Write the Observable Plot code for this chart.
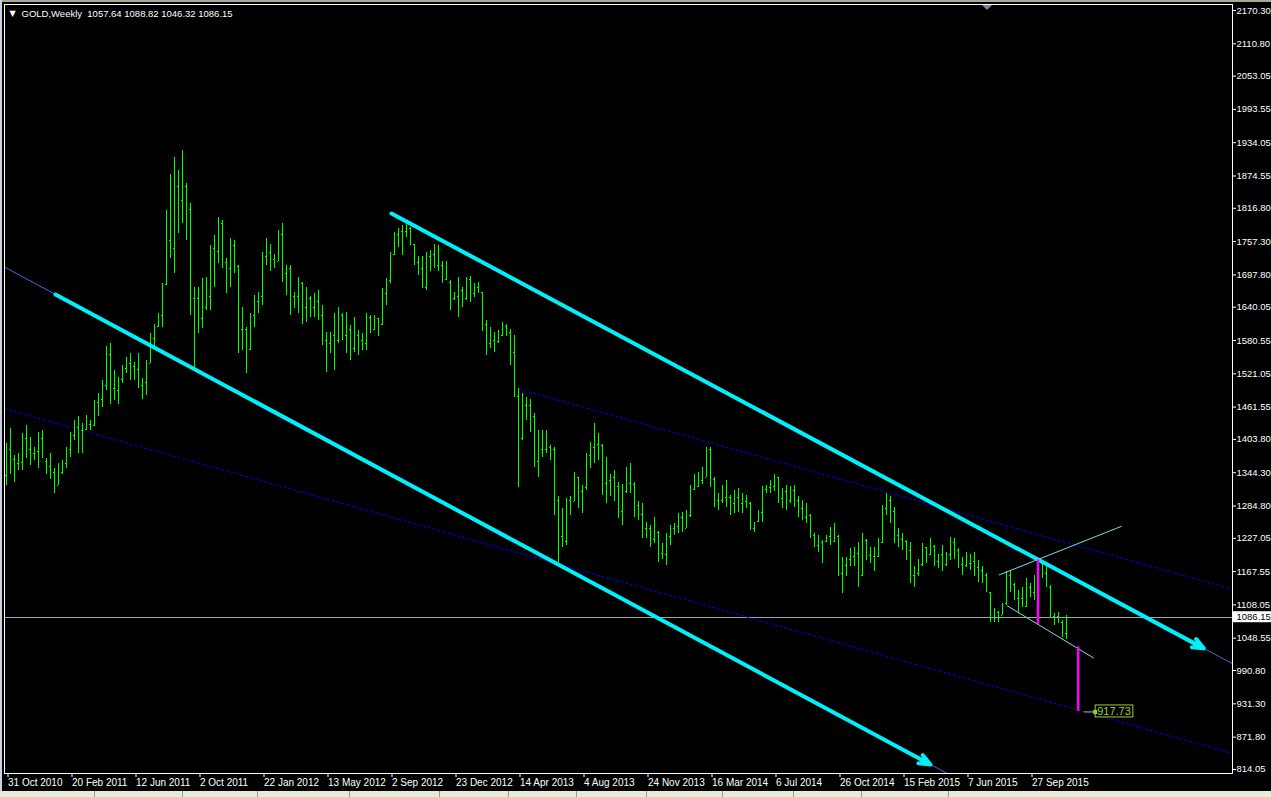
<!DOCTYPE html>
<html><head><meta charset="utf-8">
<script src="https://cdn.jsdelivr.net/npm/d3@7"></script>
<script src="https://cdn.jsdelivr.net/npm/@observablehq/plot@0.6"></script>
<style>
html,body{margin:0;padding:0;background:#000;width:1271px;height:797px;overflow:hidden;}
#chart{position:absolute;left:0;top:0;}
.topbar{position:absolute;left:0;top:0;width:1271px;height:2px;background:#a8a898;}
.leftbar{position:absolute;left:0;top:0;width:2px;height:791px;background:#c8d0dc;}
.status{position:absolute;left:0;top:791px;width:1271px;height:6px;background:#ece9d8;}
.sep{position:absolute;top:791px;width:1px;height:6px;background:#9a9a8a;}
.shift{position:absolute;left:982px;top:5px;width:0;height:0;border-left:5px solid transparent;border-right:5px solid transparent;border-top:5px solid #778899;}
</style></head>
<body>
<div id="chart"></div>
<div class="topbar"></div>
<div class="leftbar"></div>
<div class="status"></div>
<div class="shift"></div>
<script>
const symbol = "GOLD";
const period = "Weekly";

const opens = [
1340,1385,1368,1360,1362,1405,1385,1378,1382,1405,
1365,1355,1345,1322,1345,1360,1385,1410,1425,1420,
1422,1430,1428,1470,1475,1500,1555,1495,1492,1510,
1530,1540,1535,1528,1500,1505,1540,1585,1605,1625,
1680,1760,1745,1855,1830,1855,1815,1655,1655,1620,
1640,1660,1745,1740,1790,1720,1710,1750,1712,1600,
1600,1565,1625,1650,1660,1730,1738,1725,1722,1770,
1700,1710,1660,1660,1682,1640,1655,1640,1650,1625,
1580,1575,1590,1580,1625,1590,1600,1566,1590,1580,
1575,1622,1600,1619,1610,1665,1688,1735,1770,1775,
1775,1780,1752,1720,1710,1675,1730,1735,1715,1715,
1690,1685,1655,1660,1670,1655,1690,1665,1675,1666,
1610,1575,1580,1578,1590,1605,1595,1560,1480,1405,
1465,1465,1445,1365,1385,1385,1390,1385,1295,1230,
1222,1295,1292,1335,1310,1318,1375,1390,1395,1393,
1325,1330,1335,1320,1275,1310,1325,1324,1285,1270,
1245,1245,1225,1238,1200,1198,1230,1245,1248,1265,
1245,1268,1315,1320,1330,1336,1385,1333,1295,1295,
1300,1300,1290,1300,1290,1292,1289,1245,1258,1274,
1315,1317,1320,1335,1298,1310,1295,1312,1295,1280,
1265,1268,1232,1215,1220,1222,1230,1222,1230,1165,
1178,1190,1195,1200,1160,1223,1196,1195,1195,1220,
1280,1295,1275,1232,1225,1222,1205,1160,1165,1180,
1210,1198,1212,1185,1198,1180,1198,1220,1205,1180,
1178,1182,1185,1175,1170,1160,1130,1085,1095,1090,
1110,1160,1145,1120,1120,1105,1140,1130,1158,1182,
1165,1139,1088,1088,1077,1057.64
];
const highs = [
1396,1423,1375,1378,1414,1429,1408,1390,1417,1420,
1369,1378,1351,1360,1366,1390,1417,1438,1444,1432,
1447,1438,1473,1485,1509,1569,1575,1527,1515,1536,
1551,1557,1542,1557,1512,1545,1593,1610,1628,1682,
1813,1878,1908,1884,1920,1861,1825,1676,1676,1691,
1694,1750,1768,1801,1795,1727,1762,1759,1715,1640,
1604,1628,1661,1667,1738,1762,1753,1735,1777,1789,
1715,1715,1667,1694,1685,1676,1660,1664,1670,1643,
1595,1595,1628,1640,1628,1631,1607,1622,1598,1593,
1628,1625,1625,1620,1674,1691,1738,1774,1780,1786,
1789,1782,1753,1730,1730,1738,1741,1753,1750,1721,
1721,1687,1667,1694,1676,1694,1695,1682,1685,1667,
1616,1604,1595,1598,1613,1610,1601,1590,1494,1485,
1479,1476,1450,1420,1420,1420,1393,1390,1301,1280,
1298,1301,1345,1336,1321,1378,1399,1432,1414,1395,
1372,1342,1348,1327,1324,1354,1360,1326,1292,1289,
1256,1250,1265,1240,1217,1235,1250,1253,1271,1274,
1277,1321,1342,1345,1354,1390,1390,1335,1307,1321,
1330,1304,1313,1316,1307,1304,1291,1256,1277,1319,
1322,1330,1342,1336,1316,1322,1319,1322,1301,1295,
1289,1270,1235,1232,1223,1232,1247,1253,1232,1193,
1193,1208,1211,1220,1235,1225,1211,1211,1226,1286,
1307,1301,1283,1244,1235,1223,1220,1176,1190,1217,
1211,1226,1214,1199,1214,1202,1229,1226,1208,1193,
1202,1199,1202,1187,1176,1164,1131,1101,1096,1110,
1167,1170,1146,1134,1140,1155,1146,1161,1191,1187,
1182,1142,1092,1095,1080,1088.82
];
const lows = [
1321,1342,1327,1348,1348,1369,1357,1366,1351,1369,
1342,1333,1307,1321,1342,1351,1372,1402,1378,1378,
1420,1420,1426,1444,1461,1491,1467,1473,1467,1503,
1521,1509,1509,1494,1476,1482,1539,1569,1604,1604,
1679,1727,1700,1771,1789,1759,1625,1530,1593,1602,
1634,1634,1676,1718,1709,1664,1676,1700,1557,1563,
1521,1563,1604,1628,1643,1715,1703,1709,1721,1685,
1661,1625,1637,1628,1610,1613,1622,1622,1616,1572,
1524,1557,1527,1575,1581,1557,1545,1560,1554,1563,
1563,1593,1598,1587,1607,1643,1682,1732,1747,1732,
1765,1750,1715,1697,1673,1670,1703,1709,1703,1682,
1688,1634,1652,1622,1640,1652,1649,1658,1664,1596,
1554,1566,1560,1575,1587,1587,1536,1479,1318,1402,
1438,1417,1354,1336,1372,1378,1366,1268,1184,1211,
1214,1268,1292,1280,1271,1313,1351,1360,1366,1304,
1289,1301,1292,1262,1250,1307,1307,1265,1259,1226,
1226,1211,1217,1184,1190,1178,1214,1232,1235,1238,
1244,1265,1313,1318,1324,1336,1318,1283,1277,1289,
1283,1268,1271,1274,1271,1280,1241,1238,1256,1256,
1307,1307,1310,1289,1280,1277,1289,1283,1265,1259,
1253,1226,1211,1202,1182,1220,1214,1220,1158,1128,
1158,1176,1176,1140,1158,1187,1182,1167,1193,1217,
1268,1253,1217,1211,1205,1187,1146,1140,1158,1176,
1182,1196,1176,1173,1167,1176,1187,1190,1173,1161,
1175,1170,1158,1149,1146,1131,1077,1077,1077,1089,
1107,1131,1116,1095,1104,1104,1122,1116,1155,1155,
1140,1086,1071,1074,1050,1046.32
];
const closes = [
1385,1368,1360,1362,1405,1385,1378,1382,1405,1375,
1355,1345,1318,1340,1360,1385,1410,1425,1420,1422,
1430,1428,1470,1475,1500,1555,1495,1492,1510,1530,
1540,1535,1528,1500,1505,1540,1585,1600,1625,1660,
1805,1745,1855,1830,1855,1815,1655,1655,1620,1640,
1660,1745,1740,1790,1720,1710,1750,1712,1600,1605,
1565,1625,1650,1660,1730,1738,1725,1722,1770,1700,
1710,1660,1660,1685,1640,1665,1640,1650,1625,1580,
1575,1590,1535,1625,1590,1600,1566,1615,1580,1575,
1622,1600,1620,1600,1665,1688,1735,1770,1775,1775,
1780,1752,1720,1710,1675,1730,1735,1715,1745,1690,
1715,1640,1660,1690,1650,1690,1660,1675,1668,1610,
1575,1580,1575,1585,1605,1595,1560,1480,1400,1465,
1465,1445,1365,1385,1385,1390,1385,1295,1230,1222,
1295,1290,1335,1310,1318,1375,1390,1395,1395,1325,
1330,1335,1320,1275,1310,1325,1355,1285,1270,1245,
1245,1225,1240,1200,1198,1230,1245,1248,1265,1245,
1268,1315,1320,1330,1335,1385,1335,1295,1295,1300,
1320,1290,1300,1290,1292,1290,1245,1252,1274,1315,
1317,1320,1338,1298,1310,1295,1312,1295,1280,1265,
1270,1232,1215,1225,1190,1230,1222,1230,1165,1178,
1190,1195,1200,1145,1225,1196,1195,1180,1220,1280,
1295,1275,1232,1225,1228,1205,1160,1165,1180,1210,
1195,1220,1185,1198,1180,1198,1220,1205,1180,1175,
1182,1185,1175,1170,1160,1135,1085,1095,1085,1095,
1160,1160,1120,1120,1105,1140,1138,1158,1182,1165,
1142,1088,1088,1077,1057,1086.15
];

// bottom time scale: bar index of each label and its text
const tickBars = [0,16,32,48,64,80,96,112,128,144,160,176,192,208,224,240,256];
const tickLabels = ["31 Oct 2010","20 Feb 2011","12 Jun 2011","2 Oct 2011","22 Jan 2012","13 May 2012","2 Sep 2012","23 Dec 2012","14 Apr 2013","4 Aug 2013","24 Nov 2013","16 Mar 2014","6 Jul 2014","26 Oct 2014","15 Feb 2015","7 Jun 2015","27 Sep 2015"];
// right price scale labels
const priceTicks = [2170.30,2110.80,2053.05,1993.55,1934.05,1874.55,1816.80,1757.30,1697.80,1640.05,1580.55,1521.05,1461.55,1403.80,1344.30,1284.80,1227.05,1167.55,1108.05,1048.55,990.80,931.30,871.80,814.05];

// drawn objects, as [bar index, price] anchor pairs
const channelRayLower = [[-0.4, 1711.9], [240, 788.8]];
const channelArrowLower = [[12.375, 1662.8], [231.1, 823.0]];
const channelArrowUpper = [[96.375, 1807.4], [299.45, 1030.4]];
const channelRayUpper = [[299.45, 1030.4], [310, 990.1]];
const dashedUpper = [[128.2, 1493.9], [310, 1129.2]];
const dashedLower = [[-0.4, 1458.8], [310, 836.1]];
const wedgeUpper = [[248.2, 1161.4], [278.9, 1248.6]];
const wedgeLower = [[250.3, 1106.5], [271.95, 1013.0]];
const measureBars = [258, 268.05];
const measureTops = [1188.7, 1033.0];
const measureBottoms = [1073.4, 917.73];
const targetPrice = 917.73;

const bars = opens.map((o, i) => ({i, o, h: highs[i], l: lows[i], c: closes[i]}));
const seg = (a) => [{x1: a[0][0], y1: a[0][1], x2: a[1][0], y2: a[1][1]}];
const last = bars[bars.length - 1];
const lastClose = last.c;
const measures = measureBars.map((x, k) => ({x, top: measureTops[k], bottom: measureBottoms[k]}));
const lime = "#00ff00";
const aqua = "#00f0fa";
const FONT = "Tahoma, 'Liberation Sans', Arial, sans-serif";

const linkOpts = (stroke, extra = {}) => ({x1: "x1", y1: "y1", x2: "x2", y2: "y2", stroke, clip: true, ...extra});

const chart = Plot.plot({
  width: 1271,
  height: 797,
  marginTop: 4,
  marginBottom: 24,
  marginLeft: 4,
  marginRight: 39,
  style: {background: "#000", color: "#fff", fontFamily: FONT, fontSize: "10px", overflow: "visible"},
  x: {type: "linear", domain: [-0.375, 306.625]},
  y: {type: "linear", domain: [806.8, 2181.0]},
  marks: [
    Plot.ruleY([lastClose], {stroke: "#a0a4ac", strokeWidth: 1, shapeRendering: "crispEdges"}),
    Plot.link(seg(dashedUpper), linkOpts("#0000ff", {strokeDasharray: "3,2", strokeWidth: 1})),
    Plot.link(seg(dashedLower), linkOpts("#0000ff", {strokeDasharray: "3,2", strokeWidth: 1})),
    Plot.link(seg(channelRayLower), linkOpts("#4169e1", {strokeWidth: 1})),
    Plot.link(seg(channelRayUpper), linkOpts("#4169e1", {strokeWidth: 1})),
    Plot.ruleX(bars, {x: "i", y1: "l", y2: "h", stroke: lime, strokeWidth: 1, shapeRendering: "crispEdges"}),
    Plot.link(bars, {x1: d => d.i - 0.3, x2: "i", y1: "o", y2: "o", stroke: lime, strokeWidth: 1, shapeRendering: "crispEdges"}),
    Plot.link(bars, {x1: "i", x2: d => d.i + 0.3, y1: "c", y2: "c", stroke: lime, strokeWidth: 1, shapeRendering: "crispEdges"}),
    Plot.arrow(seg(channelArrowLower), {x1: "x1", y1: "y1", x2: "x2", y2: "y2", stroke: aqua, strokeWidth: 4, headLength: 4.5, headAngle: 45, clip: true}),
    Plot.arrow(seg(channelArrowUpper), {x1: "x1", y1: "y1", x2: "x2", y2: "y2", stroke: aqua, strokeWidth: 4, headLength: 4.5, headAngle: 45, clip: true}),
    Plot.link(seg(wedgeUpper), linkOpts("#7ee0e0", {strokeWidth: 1})),
    Plot.link(seg(wedgeLower), linkOpts("#7ee0e0", {strokeWidth: 1})),
    Plot.ruleX(measures, {x: "x", y1: "bottom", y2: "top", stroke: "#ff00ff", strokeWidth: 2.5}),
    Plot.frame({stroke: "#ffffff", shapeRendering: "crispEdges"}),
    Plot.axisY({anchor: "right", ticks: priceTicks, tickFormat: d => d.toFixed(2), tickSize: 3, tickPadding: 1, label: null, fill: "#fff", stroke: "#fff", fontSize: 9.5}),
    Plot.axisX({anchor: "bottom", ticks: tickBars, tickFormat: d => tickLabels[tickBars.indexOf(d)], tickSize: 4, tickPadding: 1, textAnchor: "start", dx: 2, label: null, fill: "#fff", stroke: "#fff", fontSize: 10}),
    Plot.text([lastClose], {y: d => d, frameAnchor: "right", dx: 4, textAnchor: "start", fill: "#000", fontSize: 9.5, text: d => d.toFixed(2), className: "curlbl"}),
    Plot.text([targetPrice], {x: measureBars[1], y: d => d, dx: 19, textAnchor: "start", fill: "#9acd32", fontSize: 11, text: d => d.toFixed(2), className: "tgtlbl"}),
    Plot.text(["\u25BC"], {frameAnchor: "top-left", dx: 5, dy: 9, textAnchor: "start", lineAnchor: "middle", fill: "#fff", fontSize: 8, fontFamily: "DejaVu Sans"}),
    Plot.text([`${symbol},${period}\u00a0\u00a0${last.o.toFixed(2)} ${last.h.toFixed(2)} ${last.l.toFixed(2)} ${last.c.toFixed(2)}`], {frameAnchor: "top-left", dx: 17, dy: 9, textAnchor: "start", lineAnchor: "middle", fill: "#fff", fontSize: 9.5})
  ]
});

document.getElementById("chart").append(chart);

// label boxes behind price labels
const NS = "http://www.w3.org/2000/svg";
const svgRect = chart.getBoundingClientRect();
function boxFor(cls, fill, stroke, x0, x1) {
  const g = chart.querySelector("g." + cls);
  if (!g) return null;
  const t = g.querySelector("text");
  const r = t.getBoundingClientRect();
  const rect = document.createElementNS(NS, "rect");
  const bx = x0 != null ? x0 : r.left - svgRect.left - 2;
  const bw = x1 != null ? x1 - bx : r.width + 4;
  rect.setAttribute("x", bx);
  rect.setAttribute("y", r.top - svgRect.top);
  rect.setAttribute("width", bw);
  rect.setAttribute("height", r.height);
  rect.setAttribute("fill", fill);
  if (stroke) { rect.setAttribute("stroke", stroke); rect.setAttribute("stroke-width", 1); }
  g.parentNode.insertBefore(rect, g);
  return {rect, r};
}
boxFor("curlbl", "#ffffff", null, 1233, 1271);
const tb = boxFor("tgtlbl", "#000000", "#9acd32");
if (tb) {
  const sx = chart.scale("x"), sy = chart.scale("y");
  const ax = sx.apply(measureBars[1]), ay = sy.apply(targetPrice);
  const left = tb.r.left - svgRect.left - 2;
  const line = document.createElementNS(NS, "line");
  line.setAttribute("x1", ax + 6); line.setAttribute("x2", left);
  line.setAttribute("y1", ay + 1); line.setAttribute("y2", ay + 1);
  line.setAttribute("stroke", "#9acd32");
  tb.rect.parentNode.insertBefore(line, tb.rect);
  const sq = document.createElementNS(NS, "rect");
  sq.setAttribute("x", left - 2); sq.setAttribute("y", ay - 1);
  sq.setAttribute("width", 4); sq.setAttribute("height", 4);
  sq.setAttribute("fill", "#9acd32");
  tb.rect.parentNode.appendChild(sq);
}

// status bar separators
[94,182,257,349,439,508,576,646,722,793,861,948].forEach(x => {
  const d = document.createElement("div");
  d.className = "sep"; d.style.left = x + "px";
  document.body.appendChild(d);
});
</script>
</body></html>
